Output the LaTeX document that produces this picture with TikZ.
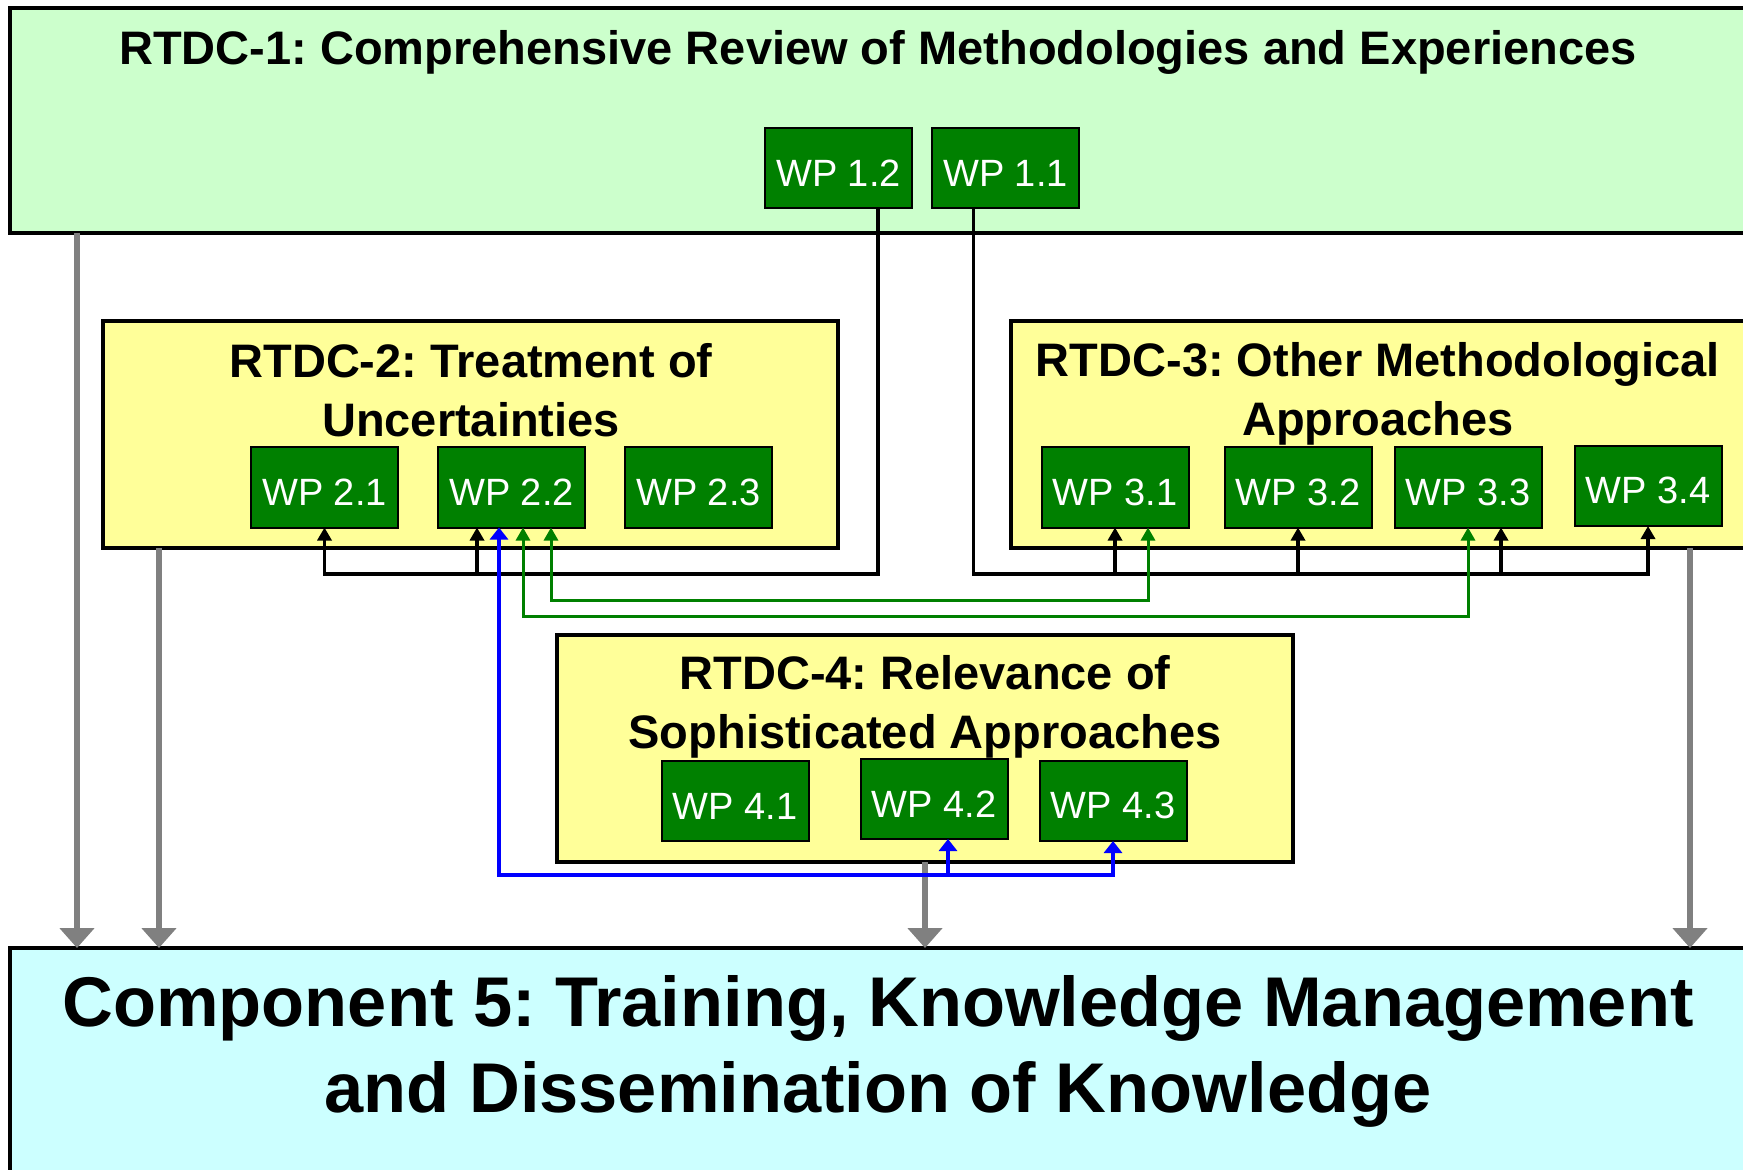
\documentclass[tikz,border=0pt]{standalone}
\usepackage{fontspec}
\setmainfont{Liberation Sans}
\usepackage{tikz}
\usetikzlibrary{positioning,calc,arrows.meta}
\frenchspacing

\definecolor{mintfill}{HTML}{CCFFCC}
\definecolor{paleyellow}{HTML}{FFFF99}
\definecolor{paleaqua}{HTML}{CCFFFF}
\definecolor{wpgreen}{HTML}{008000}
\definecolor{feedgray}{HTML}{808080}

\begin{document}
\begin{tikzpicture}[x=0.5pt, y=-0.5pt,
    rtdc/.style={draw, line width=2pt, fill=paleyellow, inner sep=0pt, outer sep=0pt,
        minimum width=367.5pt, minimum height=113.5pt},
    wp/.style={draw, line width=1pt, fill=wpgreen, text=white, inner sep=0pt, outer sep=0pt,
        minimum width=73.5pt, minimum height=40pt, text height=18pt,
        font=\fontsize{19}{22}\selectfont},
    heading/.style={align=center, inner sep=0pt, anchor=base,
        font=\bfseries\fontsize{23.5}{29.5}\selectfont},
    wire/.style={line width=1.8pt},
    gwire/.style={line width=1.5pt, draw=wpgreen},
    bwire/.style={line width=2pt, draw=blue, >={Triangle[width=9pt,length=6pt]}},
    feed/.style={line width=3.2pt, draw=feedgray, -{Triangle[width=17pt,length=10pt]}},
    >={Triangle[width=7pt,length=6.5pt]}]

    \useasboundingbox (0,0) rectangle (1743,1170);
    \clip (0,0) rectangle (1743,1170);

    % component boxes
    \node[rtdc, fill=mintfill, minimum width=870pt, minimum height=112.5pt] (rtdc1) at (880,120.5) {};
    \node[rtdc] (rtdc2) at (470.5,434.5) {};
    \node[rtdc, minimum width=369.5pt] (rtdc3) at (1380.5,434.5) {};
    \node[rtdc, minimum width=368pt] (rtdc4) at (925,748.5) {};
    \node[rtdc, fill=paleaqua, minimum width=870pt, minimum height=121pt] (rtdc5) at (880,1069) {};

    % headings (base = last line)
    \node[heading] (head1) at (878,65) {RTDC-1: Comprehensive Review of Methodologies and Experiences};
    \node[heading] (head2) at (471,437) {RTDC-2: Treatment of\\Uncertainties};
    \node[heading] (head3) at (1378,436) {RTDC-3: Other Methodological\\Approaches};
    \node[heading] (head4) at (925,748) {RTDC-4: Relevance of\\Sophisticated Approaches};
    \node[heading, font=\bfseries\fontsize{35.2}{43}\selectfont] (head5) at (878,1112)
        {Component 5: Training, Knowledge Management\\and Dissemination of Knowledge};

    % work packages
    \node[wp] (wp12) at (838.5,168.5) {WP 1.2};
    \node[wp, right=10pt of wp12] (wp11) {WP 1.1};

    \node[wp] (wp21) at (324.5,487.5) {WP 2.1};
    \node[wp, right=20pt of wp21] (wp22) {WP 2.2};
    \node[wp, right=20pt of wp22] (wp23) {WP 2.3};

    \node[wp] (wp31) at (1115,487.5) {WP 3.1};
    \node[wp, right=18pt of wp31] (wp32) {WP 3.2};
    \node[wp, right=11.5pt of wp32] (wp33) {WP 3.3};
    \node[wp, right=16.5pt of wp33, yshift=0.75pt] (wp34) {WP 3.4};

    \node[wp] (wp41) at (735,801) {WP 4.1};
    \node[wp, right=26pt of wp41, yshift=1pt] (wp42) {WP 4.2};
    \node[wp, right=16pt of wp42, yshift=-1pt] (wp43) {WP 4.3};

    % flows into component 5
    \coordinate (g1) at ([xshift=33.5pt]rtdc1.south west);
    \coordinate (g2) at ([xshift=28pt]rtdc2.south west);
    \coordinate (g3) at ([xshift=339.5pt]rtdc3.south west);
    \draw[feed] (g1) -- (g1 |- rtdc5.north);
    \draw[feed] (g2) -- (g2 |- rtdc5.north);
    \draw[feed] (rtdc4.south) -- (rtdc4.south |- rtdc5.north);
    \draw[feed] (g3) -- (g3 |- rtdc5.north);

    % links from RTDC-1
    \coordinate (bus) at (0,574);
    \draw[wire,->] ([xshift=19.75pt]wp12.south) |- (wp21.south |- bus) -- (wp21.south);
    \draw[wire,<-] ([xshift=-17.25pt]wp22.south) -- ++(0,46);
    \draw[wire,->] ([xshift=-16pt]wp11.south) |- (wp34.south |- bus) -- (wp34.south);
    \foreach \w in {wp31,wp32}
        \draw[wire,<-] (\w.south) -- (\w.south |- bus);
    \draw[wire,<-] ([xshift=16.5pt]wp33.south) -- ++(0,46);

    % links between RTDC-2 and RTDC-3
    \draw[gwire,<->] ([xshift=19.75pt]wp22.south) -- ++(0,73) -| ([xshift=16.5pt]wp31.south);
    \draw[gwire,<->] ([xshift=5.75pt]wp22.south) -- ++(0,89) -| (wp33.south);

    % links between RTDC-2 and RTDC-4
    \draw[bwire,<->] ([xshift=-6.25pt]wp22.south) -- ++(0,347) -| (wp43.south);
    \draw[bwire,<-] ([xshift=7pt]wp42.south) -- ++(0,36);
\end{tikzpicture}
\end{document}
